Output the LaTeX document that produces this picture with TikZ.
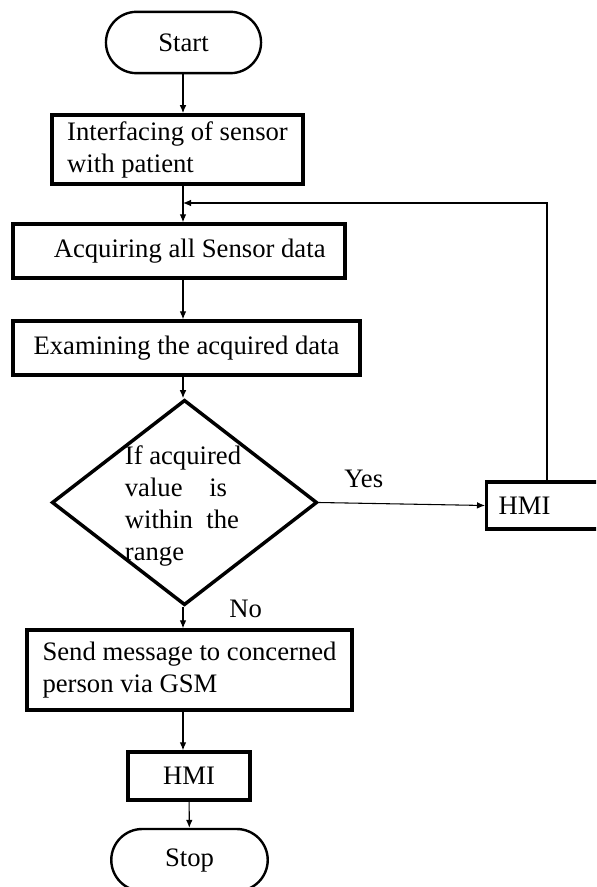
\documentclass[tikz,border=0pt]{standalone}
\usepackage{fontspec}
\setmainfont{Liberation Serif}
\usetikzlibrary{shapes, arrows.meta, positioning}

\begin{document}
\begin{tikzpicture}[x=0.75pt,y=-0.75pt,>={Latex[length=6pt,width=5pt]},
 font=\fontsize{20}{24}\selectfont,
 block/.style={rectangle,draw,line width=2.6pt,align=left,inner sep=0pt},
 terminal/.style={rounded rectangle,draw,line width=1.8pt,minimum width=123pt,minimum height=46pt},
 decision/.style={diamond,draw,line width=2.6pt,minimum width=199pt,minimum height=154pt,inner sep=0pt},
 flow/.style={->,line width=0.8pt}]

  \clip (0,0) rectangle (596,887);

  \node[terminal] (start) at (183.5,42.5) {Start};
  \node[block,minimum width=188pt,minimum height=52pt] (s1) at (177.5,149.5) {Interfacing of sensor\\with patient};
  \node[block,minimum width=249pt,minimum height=40.5pt] (s2) at (179,251) {\hspace*{16pt}Acquiring all Sensor data};
  \node[block,minimum width=260pt,minimum height=40.5pt] (s3) at (186.5,348) {Examining the acquired data};
  \node[decision] (dec) at (184.5,502.5) {};
  \node[align=left,inner sep=0pt] (cond) at (183,506) {If acquired\\value\hspace{1em}is\\within\hspace{0.5em}the\\range};
  \node[block,anchor=west,minimum height=35pt,text width=92pt,inner xsep=9pt] (hmi1) at (485,505.5) {HMI};
  \node[block,minimum width=244pt,minimum height=60pt] (b4) at (189.5,670) {Send message to concerned\\person via GSM};
  \node[block,minimum width=91.5pt,minimum height=36pt] (hmi2) at (189,776) {HMI};
  \node[terminal,minimum width=124pt,minimum height=46.5pt] (stop) at (189.5,860) {Stop};

  \coordinate (join) at (183,203);
  \coordinate (up) at (547,203);

  \foreach \s/\t in {start/s1, s1/s2, s2/s3, s3/dec, b4/hmi2}
    \draw[flow] (\s.south -| join) -- (\t.north -| join);

  \draw[flow] (dec.south -| join) -- node[pos=0.1,xshift=47pt] {No} (b4.north -| join);
  \draw[flow] (dec.east) -- node[pos=0.27,yshift=18pt] {Yes} (hmi1.west);
  \draw[flow] (hmi1.north -| up) -- (up) -- (join);
  \draw[flow] (hmi2) -- (stop);
\end{tikzpicture}
\end{document}
